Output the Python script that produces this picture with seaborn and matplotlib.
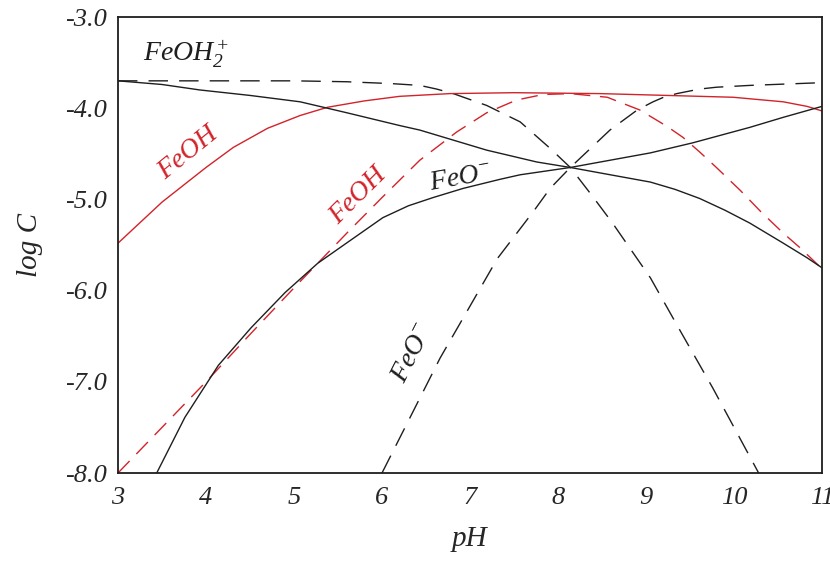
import matplotlib
matplotlib.use("Agg")
import matplotlib.pyplot as plt
import pandas as pd
import seaborn as sns

# pH / log C pairs, one pair of lists per curve
ph_feoh2_dash = [3.0, 4.0, 5.0, 5.6, 6.1, 6.43, 6.62, 6.81, 7.19, 7.57, 7.91, 8.14, 8.38, 8.62, 9.05, 9.40, 9.76,
                 10.28]
lc_feoh2_dash = [-3.70, -3.70, -3.70, -3.71, -3.73, -3.75, -3.79, -3.84, -3.97, -4.15, -4.44, -4.65, -4.95, -5.26,
                 -5.86, -6.46, -7.07, -8.00]

ph_feo_dash = [6.0, 6.66, 7.0, 7.31, 7.73, 7.91, 8.14, 8.59, 8.90, 9.08, 9.20, 9.35, 9.61, 9.80, 10.18, 11.0]
lc_feo_dash = [-8.0, -6.74, -6.17, -5.65, -5.12, -4.88, -4.65, -4.24, -4.02, -3.93, -3.88, -3.84, -3.79, -3.77,
               -3.75, -3.72]

ph_feoh_dash = [3.0, 3.51, 4.02, 4.51, 5.02, 5.61, 6.0, 6.43, 6.85, 7.19, 7.53, 7.83, 8.14, 8.56, 8.93,
                9.24, 9.42, 9.61, 9.80, 10.07, 10.30, 10.56, 10.75, 11.0]
lc_feoh_dash = [-8.0, -7.49, -6.98, -6.47, -5.95, -5.36, -4.98, -4.57, -4.26, -4.05, -3.91, -3.85, -3.84, -3.88,
                -4.02, -4.20, -4.32, -4.48, -4.65, -4.90, -5.13, -5.37, -5.53, -5.76]

ph_feoh_solid = [3.0, 3.5, 4.0, 4.31, 4.7, 5.07, 5.38, 5.8, 6.20, 6.77, 7.5, 8.48, 9.24, 9.99, 10.56, 10.83, 11.0]
lc_feoh_solid = [-5.48, -5.03, -4.65, -4.43, -4.22, -4.08, -3.99, -3.92, -3.87, -3.84, -3.83, -3.84, -3.86, -3.88,
                 -3.93, -3.98, -4.03]

ph_feoh2_solid = [3.0, 3.5, 3.93, 4.5, 5.07, 5.6, 6.20, 6.43, 7.19, 7.76, 8.14, 8.48, 9.05, 9.33, 9.61, 9.9,
                  10.18, 10.56, 10.83, 11.0]
lc_feoh2_solid = [-3.70, -3.74, -3.80, -3.86, -3.93, -4.05, -4.19, -4.24, -4.46, -4.59, -4.65, -4.71, -4.81, -4.89,
                  -4.99, -5.12, -5.26, -5.48, -5.64, -5.75]

ph_feo_solid = [3.44, 3.76, 4.14, 4.51, 4.90, 5.27, 5.61, 6.01, 6.30, 6.58, 6.92, 7.34, 7.57, 8.14, 8.48, 9.05,
                9.53, 10.18, 10.56, 11.0]
lc_feo_solid = [-8.0, -7.39, -6.82, -6.41, -6.02, -5.70, -5.47, -5.20, -5.07, -4.98, -4.88, -4.78, -4.73, -4.65,
                -4.59, -4.49, -4.38, -4.21, -4.10, -3.98]

x_ticks = [3, 4, 5, 6, 7, 8, 9, 10, 11]
x_labels = ["3", "4", "5", "6", "7", "8", "9", "10", "11"]
y_ticks = [-3.0, -4.0, -5.0, -6.0, -7.0, -8.0]
y_labels = ["-3.0", "-4.0", "-5.0", "-6.0", "-7.0", "-8.0"]

RED = "#d2232a"
BLACK = "#1e1e1e"

sns.set_theme(style="white")
plt.rcParams["font.family"] = ["Liberation Serif", "DejaVu Serif"]
plt.rcParams["mathtext.fontset"] = "custom"
plt.rcParams["mathtext.rm"] = "Liberation Serif:italic"
plt.rcParams["mathtext.it"] = "Liberation Serif:italic"
plt.rcParams["axes.unicode_minus"] = False

fig = plt.figure(figsize=(8.3, 5.63), dpi=100)
ax = fig.add_axes([118 / 830, 90 / 563, 704 / 830, 456 / 563])

curves = [
    (ph_feoh2_dash, lc_feoh2_dash, BLACK, (0, (14, 8))),
    (ph_feo_dash, lc_feo_dash, BLACK, (0, (14, 8))),
    (ph_feoh_dash, lc_feoh_dash, RED, (0, (12, 7))),
    (ph_feoh_solid, lc_feoh_solid, RED, "-"),
    (ph_feoh2_solid, lc_feoh2_solid, BLACK, "-"),
    (ph_feo_solid, lc_feo_solid, BLACK, "-"),
]
for ph, lc, col, ls in curves:
    df = pd.DataFrame({"pH": ph, "logC": lc})
    sns.lineplot(data=df, x="pH", y="logC", color=col, linestyle=ls, linewidth=1.0, ax=ax)

ax.set_xlim(3, 11)
ax.set_ylim(-8, -3)
ax.set_xticks(x_ticks)
ax.set_xticklabels(x_labels, fontsize=19, fontstyle="italic")
ax.set_yticks(y_ticks)
ax.set_yticklabels(y_labels, fontsize=19, fontstyle="italic")
ax.set_xticks([3.5, 4.5, 5.5, 6.5, 7.5, 8.5, 9.5, 10.5], minor=True)
ax.set_yticks([-3.5, -4.5, -5.5, -6.5, -7.5], minor=True)
ax.tick_params(which="major", direction="in", length=12, width=1.0, color=BLACK, pad=8)
ax.tick_params(which="minor", direction="in", length=5, width=1.0, color=BLACK)
ax.tick_params(axis="x", which="major", pad=10)
for s in ax.spines.values():
    s.set_linewidth(1.3)
    s.set_color(BLACK)

ax.set_xlabel("pH", fontsize=21, fontstyle="italic", labelpad=12)
ax.set_ylabel("log C", fontsize=21, fontstyle="italic", labelpad=16)

lab = dict(fontsize=20, fontstyle="italic", ha="center", va="center", rotation_mode="anchor")
ax.text(3.28, -3.49, r"FeOH$_2^+$", fontsize=20, fontstyle="italic", color=BLACK, ha="left", va="baseline")
ax.text(3.80, -4.49, "FeOH", color=RED, rotation=39, **lab)
ax.text(5.73, -4.96, "FeOH", color=RED, rotation=45, **lab)
ax.text(6.89, -4.77, r"FeO$^{-}$", color=BLACK, rotation=10, **lab)
ax.text(6.35, -6.68, r"FeO$^{-}$", color=BLACK, rotation=63, **lab)

fig.savefig("out.png", dpi=100)
